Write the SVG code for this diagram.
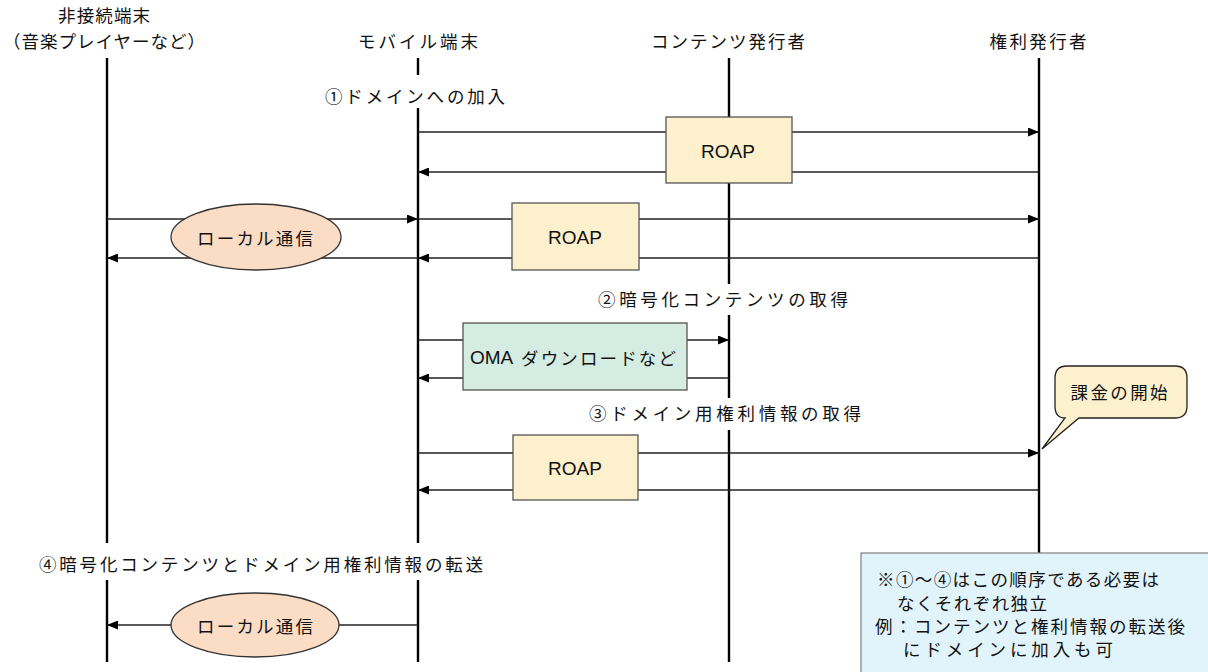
<svg xmlns="http://www.w3.org/2000/svg" width="1208" height="672" viewBox="0 0 1208 672">
<defs>
<style>
text{font-family:"Noto Sans CJK JP","Noto Sans",sans-serif;font-size:17.5px;fill:#111;dominant-baseline:central}
.life{stroke:#000;stroke-width:2.4;fill:none}
.msg{stroke:#222;stroke-width:1.3;fill:none}
.arr{marker-end:url(#ah)}
.roap{fill:#fdf0cd;stroke:#555;stroke-width:1.3}
.oma{fill:#d4ece1;stroke:#555;stroke-width:1.3}
.local{fill:#fbdcc4;stroke:#333;stroke-width:1.3}
.lat{font-family:"Liberation Sans",Arial,sans-serif;font-size:19px}
</style>
<marker id="ah" markerUnits="userSpaceOnUse" markerWidth="11" markerHeight="9" refX="11" refY="4.5" orient="auto">
<path d="M0,0 L11,4.5 L0,9 z" fill="#000"/>
</marker>
</defs>
<rect width="1208" height="672" fill="#fff"/>

<g id="p-offline">
<text x="104" y="14" text-anchor="middle" textLength="92" lengthAdjust="spacing">非接続端末</text>
<text x="104" y="40" text-anchor="middle" textLength="202" lengthAdjust="spacing">（音楽プレイヤーなど）</text>
<path class="life" d="M107,58 V543 M107,580 V662"/>
</g>
<g id="p-mobile">
<text x="418" y="40" text-anchor="middle" textLength="120" lengthAdjust="spacing">モバイル端末</text>
<path class="life" d="M418,58 V75 M418,108 V543 M418,580 V662"/>
</g>
<g id="p-content">
<text x="728" y="40" text-anchor="middle" textLength="154" lengthAdjust="spacing">コンテンツ発行者</text>
<path class="life" d="M729,58 V284 M729,315 V398 M729,430 V662"/>
</g>
<g id="p-rights">
<text x="1038" y="40" text-anchor="middle" textLength="97" lengthAdjust="spacing">権利発行者</text>
<path class="life" d="M1039,58 V553"/>
</g>

<g id="labels">
<text x="415" y="95" text-anchor="middle" textLength="180" lengthAdjust="spacing">①ドメインへの加入</text>
<text x="723" y="298" text-anchor="middle" textLength="250" lengthAdjust="spacing">②暗号化コンテンツの取得</text>
<text x="725" y="412" text-anchor="middle" textLength="272" lengthAdjust="spacing">③ドメイン用権利情報の取得</text>
<text x="261" y="563" text-anchor="middle" textLength="444" lengthAdjust="spacing">④暗号化コンテンツとドメイン用権利情報の転送</text>
</g>

<g id="connectors">
<line class="msg arr" x1="418" y1="132" x2="1039" y2="132"/>
<line class="msg arr" x1="1039" y1="172" x2="418" y2="172"/>
<line class="msg arr" x1="107" y1="219" x2="418" y2="219"/>
<line class="msg arr" x1="418" y1="219" x2="1039" y2="219"/>
<line class="msg arr" x1="1039" y1="258" x2="418" y2="258"/>
<line class="msg arr" x1="418" y1="258" x2="107" y2="258"/>
<line class="msg arr" x1="418" y1="340" x2="729" y2="340"/>
<line class="msg arr" x1="729" y1="378" x2="418" y2="378"/>
<line class="msg arr" x1="418" y1="453" x2="1039" y2="453"/>
<line class="msg arr" x1="1039" y1="490" x2="418" y2="490"/>
<line class="msg arr" x1="418" y1="625" x2="107" y2="625"/>
</g>

<g id="roap1">
<rect class="roap" x="666" y="117" width="126" height="66"/>
<text class="lat" x="728" y="151" text-anchor="middle">ROAP</text>
</g>
<g id="roap2">
<rect class="roap" x="512" y="203" width="127" height="67"/>
<text class="lat" x="575" y="237" text-anchor="middle">ROAP</text>
</g>
<g id="local1">
<ellipse class="local" cx="256" cy="237" rx="85" ry="33"/>
<text x="255" y="237" text-anchor="middle" textLength="116" lengthAdjust="spacing">ローカル通信</text>
</g>
<g id="oma">
<rect class="oma" x="463" y="323" width="224" height="67"/>
<text class="lat" x="470" y="357">OMA</text>
<text x="521" y="357" textLength="155" lengthAdjust="spacing">ダウンロードなど</text>
</g>
<g id="roap3">
<rect class="roap" x="513" y="435" width="125" height="65"/>
<text class="lat" x="575" y="468" text-anchor="middle">ROAP</text>
</g>
<g id="billing">
<path d="M1067,366 H1175 Q1187,366 1187,378 V406 Q1187,418 1175,418 H1079 L1042,449 L1065,418 Q1055,418 1055,406 V378 Q1055,366 1067,366 Z" fill="#fdf0cd" stroke="#222" stroke-width="1.3"/>
<text x="1119" y="391" text-anchor="middle" textLength="97" lengthAdjust="spacing">課金の開始</text>
</g>
<g id="local2">
<ellipse class="local" cx="255" cy="625" rx="84" ry="32"/>
<text x="255" y="625" text-anchor="middle" textLength="116" lengthAdjust="spacing">ローカル通信</text>
</g>
<g id="note">
<rect x="861" y="553" width="360" height="130" fill="#e1f4fb" stroke="#888" stroke-width="1.3"/>
<text x="877" y="578" textLength="282" lengthAdjust="spacing">※①〜④はこの順序である必要は</text>
<text x="897" y="602" textLength="150" lengthAdjust="spacing">なくそれぞれ独立</text>
<text x="875" y="625" textLength="310" lengthAdjust="spacing">例：コンテンツと権利情報の転送後</text>
<text x="903" y="648" textLength="210" lengthAdjust="spacing">にドメインに加入も可</text>
</g>
</svg>
